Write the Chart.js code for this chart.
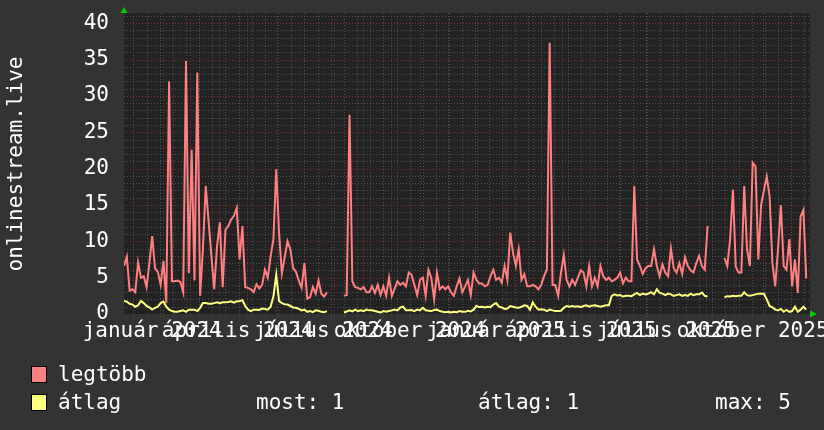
<!DOCTYPE html>
<html>
<head>
<meta charset="utf-8">
<script src="https://cdn.jsdelivr.net/npm/chart.js@4/dist/chart.umd.min.js"></script>
<style>
  html, body { margin: 0; padding: 0; background: #333333; }
  canvas { display: block; }
</style>
</head>
<body>
<canvas id="chart" width="824" height="430"></canvas>
<script>
"use strict";

// one value every 3 days, starting 2023-12-22 (null = no data)
var STEP_DAYS = 3;
var START = Date.UTC(2023, 11, 22);

var maxVals = [
	6.6, 7.9, 3.2, 3.4, 3.0, 7.1, 5.0, 5.2, 3.7, 7.0,
	10.7, 6.3, 5.8, 4.0, 7.3, 1.5, 32.0, 4.5, 4.5, 4.6,
	4.4, 3.0, 34.8, 5.6, 22.6, 4.6, 33.2, 2.5, 9.0, 17.6,
	12.8, 8.0, 3.4, 9.3, 12.6, 3.7, 11.6, 12.1, 13.0, 13.5,
	14.6, 7.5, 12.1, 3.7, 3.6, 3.4, 3.0, 4.1, 3.5, 4.0,
	6.1, 5.0, 7.9, 10.3, 19.9, 11.2, 5.6, 7.8, 10.0, 8.9,
	6.3, 5.8, 4.6, 3.6, 7.0, 2.1, 2.3, 3.7, 2.8, 4.6,
	2.8, 2.4, 3.0, null, null, null, null, null, 2.5, 2.6,
	27.4, 4.5, 3.7, 3.6, 3.4, 3.7, 3.0, 3.0, 3.8, 2.9,
	4.0, 2.6, 3.8, 2.5, 5.0, 2.5, 3.5, 4.5, 4.0, 4.3,
	3.8, 5.7, 5.4, 4.0, 2.6, 4.7, 5.0, 2.5, 6.1, 5.0,
	2.0, 5.7, 3.4, 3.8, 3.4, 3.8, 3.0, 2.5, 3.8, 4.9,
	3.0, 3.8, 4.7, 2.6, 5.7, 4.7, 4.2, 4.2, 3.8, 4.0,
	5.2, 6.1, 4.7, 5.0, 4.3, 6.6, 4.7, 11.2, 8.4, 6.6,
	8.9, 4.7, 5.5, 3.8, 3.8, 4.0, 3.8, 3.4, 4.0, 5.2,
	6.1, 37.3, 4.0, 4.0, 2.5, 5.7, 8.1, 4.7, 3.8, 4.7,
	4.0, 5.0, 6.0, 5.7, 3.8, 6.6, 3.8, 5.0, 3.8, 6.6,
	5.2, 4.7, 5.0, 4.5, 4.7, 5.0, 5.7, 4.2, 5.0, 4.5,
	4.5, 17.6, 7.5, 6.6, 5.5, 6.3, 6.6, 6.6, 8.9, 6.6,
	5.2, 6.8, 5.7, 5.2, 9.0, 6.3, 5.7, 7.0, 5.5, 7.8,
	6.6, 6.0, 5.7, 7.0, 8.0, 6.6, 6.1, 12.1, null, null,
	null, null, null, 7.7, 6.6, 10.3, 17.1, 6.5, 5.7, 5.7,
	17.6, 8.9, 6.6, 20.8, 20.3, 7.5, 15.0, 17.0, 18.9, 16.2,
	7.0, 3.8, 9.0, 15.0, 6.6, 6.1, 10.3, 3.8, 7.5, 2.9,
	13.4, 14.3, 4.9
];

var avgVals = [
	1.8, 1.7, 1.4, 1.3, 1.0, 1.2, 1.8, 1.5, 1.1, 0.9,
	0.6, 0.85, 1.0, 1.5, 1.7, 1.0, 0.6, 0.4, 0.3, 0.3,
	0.4, 0.5, 0.3, 0.6, 0.6, 0.6, 0.4, 0.85, 1.5, 1.5,
	1.4, 1.4, 1.5, 1.6, 1.5, 1.6, 1.6, 1.65, 1.75, 1.55,
	1.75, 1.75, 1.9, 1.1, 0.6, 0.4, 0.6, 0.6, 0.55, 0.75,
	0.7, 0.6, 1.0, 2.4, 5.4, 1.8, 1.5, 1.35, 1.3, 1.1,
	0.9, 0.85, 0.7, 0.5, 0.6, 0.3, 0.4, 0.25, 0.5, 0.45,
	0.3, 0.25, 0.4, null, null, null, null, null, 0.2, 0.35,
	0.5, 0.35, 0.6, 0.4, 0.5, 0.4, 0.6, 0.5, 0.5, 0.4,
	0.3, 0.2, 0.4, 0.3, 0.4, 0.5, 0.6, 0.5, 0.9, 1.0,
	0.5, 0.5, 0.55, 0.4, 0.6, 0.5, 0.85, 0.5, 0.45, 0.4,
	0.55, 0.6, 0.4, 0.3, 0.25, 0.3, 0.2, 0.3, 0.25, 0.4,
	0.3, 0.3, 0.45, 0.35, 0.6, 1.1, 0.95, 1.0, 0.9, 1.0,
	0.95, 1.3, 1.5, 1.0, 0.9, 0.7, 0.75, 1.1, 1.0, 0.9,
	0.85, 1.0, 1.2, 1.1, 0.6, 1.6, 1.0, 0.6, 0.65, 0.6,
	0.4, 0.6, 0.5, 0.4, 0.4, 0.45, 0.85, 1.1, 1.0, 1.1,
	1.0, 1.05, 0.95, 1.1, 1.2, 1.0, 1.15, 1.2, 1.1, 1.0,
	1.1, 1.2, 1.2, 2.5, 2.7, 2.55, 2.6, 2.4, 2.5, 2.5,
	2.45, 2.7, 2.9, 2.6, 2.8, 2.7, 2.8, 3.0, 2.7, 3.4,
	2.9, 2.8, 2.6, 2.8, 2.7, 2.5, 2.6, 2.7, 2.5, 2.6,
	2.5, 2.8, 2.6, 2.7, 2.7, 2.95, 2.5, 2.4, null, null,
	null, null, null, 2.3, 2.45, 2.4, 2.5, 2.45, 2.5, 2.5,
	3.0, 2.6, 2.5, 2.6, 2.7, 2.8, 2.8, 2.8, 2.0, 1.1,
	0.9, 0.6, 0.5, 0.7, 0.3, 0.55, 0.3, 0.4, 1.0, 0.3,
	0.6, 1.0, 0.6
];

var xLabels = ['január 2024', 'április 2024', 'július 2024', 'október 2024',
	'január 2025', 'április 2025', 'július 2025', 'október 2025'];
var labelMonths = [[2024, 0], [2024, 3], [2024, 6], [2024, 9], [2025, 0], [2025, 3], [2025, 6], [2025, 9]];
var yTicks = [0, 5, 10, 15, 20, 25, 30, 35, 40];

var X_MAX = 730;
var Y_MAX = 41.4;
var FONT = '"DejaVu Sans Mono", monospace';

function dayOf(y, m, d) {
	return (Date.UTC(y, m, d || 1) - START) / 86400000;
}

// month starts -> red grid, every 2nd monday -> grey grid
var monthDays = [];
for (var yy = 2023; yy <= 2026; yy++) {
	for (var mm = 0; mm < 12; mm++) {
		var d = dayOf(yy, mm, 1);
		if (d > 0 && d < X_MAX) monthDays.push(d);
	}
}
var weekDays = [];
for (var w = dayOf(2024, 0, 1) % 14; w < X_MAX; w += 14) weekDays.push(w);
var labelDays = labelMonths.map(function (p) { return dayOf(p[0], p[1], 1) + 20; });

function toPoints(vals) {
	return vals.map(function (v, i) { return { x: i * STEP_DAYS, y: v }; });
}

var MINOR = 'rgba(110,110,110,0.6)';
var MAJOR = 'rgba(150,55,55,0.75)';

var rrdPlugin = {
	id: 'rrdLook',
	beforeDatasetsDraw: function (chart) {
		var c = chart.ctx, a = chart.chartArea;
		var xs = chart.scales.x, ys = chart.scales.y;
		c.save();
		c.fillStyle = '#222222';
		c.fillRect(a.left, a.top, a.right - a.left, a.bottom - a.top);
		c.lineWidth = 1;
		c.setLineDash([1, 2]);
		function hline(v, col) {
			var y = Math.round(ys.getPixelForValue(v)) + 0.5;
			c.strokeStyle = col;
			c.beginPath(); c.moveTo(a.left, y); c.lineTo(a.right, y); c.stroke();
		}
		function vline(v, col) {
			var x = Math.round(xs.getPixelForValue(v)) + 0.5;
			c.strokeStyle = col;
			c.beginPath(); c.moveTo(x, a.top); c.lineTo(x, a.bottom + 3); c.stroke();
		}
		for (var v = 1; v < Y_MAX; v++) if (v % 5 !== 0) hline(v, MINOR);
		weekDays.forEach(function (d) { vline(d, MINOR); });
		yTicks.forEach(function (t) { if (t > 0) hline(t, MAJOR); });
		monthDays.forEach(function (d) { vline(d, MAJOR); });
		c.restore();
	},
	afterDraw: function (chart) {
		var c = chart.ctx, a = chart.chartArea;
		c.save();
		// axis arrows
		c.fillStyle = '#00cc00';
		c.beginPath();
		c.moveTo(a.left - 3.5, a.top); c.lineTo(a.left + 3.5, a.top); c.lineTo(a.left, a.top - 6);
		c.closePath(); c.fill();
		c.beginPath();
		c.moveTo(a.right, a.bottom - 3.5); c.lineTo(a.right, a.bottom + 3.5); c.lineTo(a.right + 7, a.bottom);
		c.closePath(); c.fill();

		// vertical title
		c.fillStyle = '#ffffff';
		c.font = '21px ' + FONT;
		c.textAlign = 'center';
		c.textBaseline = 'middle';
		c.translate(17, 164);
		c.rotate(-Math.PI / 2);
		c.fillText('onlinestream.live', 0, 0);
		c.restore();

		// legend
		c.save();
		var ds = chart.data.datasets;
		var avgData = avgVals.filter(function (v) { return v !== null; });
		var now = avgData[avgData.length - 1];
		var mean = avgData.reduce(function (s, v) { return s + v; }, 0) / avgData.length;
		var top = Math.max.apply(null, avgData);
		c.font = '21px ' + FONT;
		c.textBaseline = 'middle';
		c.textAlign = 'left';
		c.lineWidth = 1;
		c.strokeStyle = '#000000';
		c.fillStyle = ds[1].borderColor;
		c.fillRect(32, 367, 14, 15); c.strokeRect(31.5, 366.5, 15, 16);
		c.fillStyle = ds[0].borderColor;
		c.fillRect(32, 395, 14, 15); c.strokeRect(31.5, 394.5, 15, 16);
		c.fillStyle = '#ffffff';
		c.fillText(ds[1].label, 58, 376);
		c.fillText(ds[0].label, 58, 404);
		c.fillText('most: ' + Math.round(now), 256, 404);
		c.fillText('átlag: ' + Math.round(mean), 478, 404);
		c.fillText('max: ' + Math.round(top), 715, 404);
		c.restore();
	}
};

var chart = new Chart(document.getElementById('chart'), {
	type: 'line',
	data: {
		datasets: [{
			label: 'átlag',
			data: toPoints(avgVals),
			borderColor: '#ffff80',
			order: 1
		}, {
			label: 'legtöbb',
			data: toPoints(maxVals),
			borderColor: '#ff8080',
			order: 2
		}]
	},
	options: {
		responsive: false,
		animation: false,
		devicePixelRatio: 1,
		spanGaps: false,
		elements: {
			line: { borderWidth: 2, tension: 0, fill: false },
			point: { radius: 0 }
		},
		layout: { padding: { top: 13, right: 14, left: 0, bottom: 0 } },
		plugins: { legend: { display: false }, tooltip: { enabled: false } },
		scales: {
			x: {
				type: 'linear',
				min: 0,
				max: X_MAX,
				grid: { display: false },
				border: { display: false },
				afterBuildTicks: function (scale) {
					scale.ticks = labelDays.map(function (d) { return { value: d }; });
				},
				afterFit: function (scale) {
					scale.height = 116;
					scale.paddingLeft = 0;
					scale.paddingRight = 0;
				},
				ticks: {
					autoSkip: false,
					maxRotation: 0,
					padding: -3,
					color: '#ffffff',
					font: { family: FONT, size: 21 },
					callback: function (v, i) { return xLabels[i]; }
				}
			},
			y: {
				min: 0,
				max: Y_MAX,
				grid: { display: false, drawTicks: false },
				border: { display: false },
				afterBuildTicks: function (scale) {
					scale.ticks = yTicks.map(function (t) { return { value: t }; });
				},
				afterFit: function (scale) {
					scale.width = 124;
					scale.paddingTop = 0;
					scale.paddingBottom = 0;
				},
				ticks: {
					autoSkip: false,
					padding: 15,
					color: '#ffffff',
					font: { family: FONT, size: 21 }
				}
			}
		}
	},
	plugins: [rrdPlugin]
});
</script>
</body>
</html>
